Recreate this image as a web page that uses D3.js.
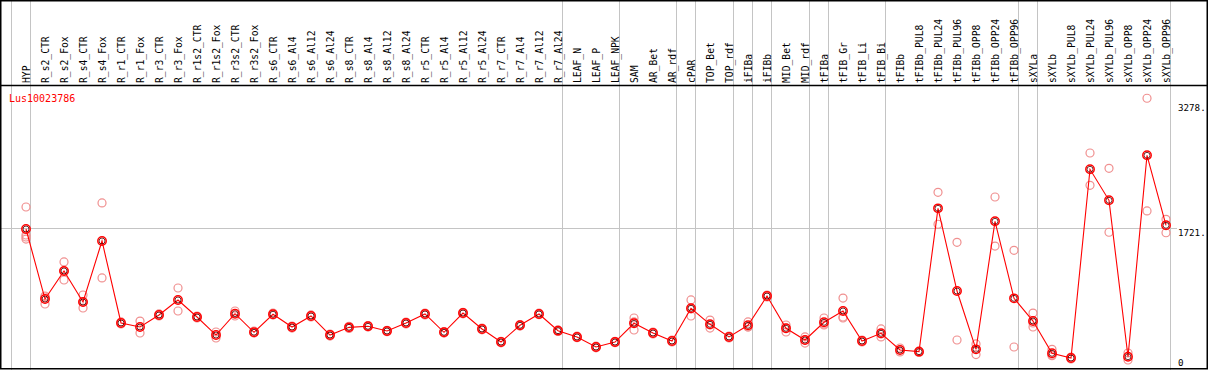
<!DOCTYPE html>
<html><head><meta charset="utf-8">
<script src="https://cdn.jsdelivr.net/npm/d3@7"></script>
<style>html,body{margin:0;padding:0;background:#fff;overflow:hidden}</style>
</head><body>
<svg id="c" width="1209" height="370"></svg>
<script>
const title = "Lus10023786";
const categories = ["HYP","R_s2_CTR","R_s2_Fox","R_s4_CTR","R_s4_Fox","R_r1_CTR","R_r1_Fox","R_r3_CTR","R_r3_Fox","R_r1s2_CTR","R_r1s2_Fox","R_r3s2_CTR","R_r3s2_Fox","R_s6_CTR","R_s6_Al4","R_s6_Al12","R_s6_Al24","R_s8_CTR","R_s8_Al4","R_s8_Al12","R_s8_Al24","R_r5_CTR","R_r5_Al4","R_r5_Al12","R_r5_Al24","R_r7_CTR","R_r7_Al4","R_r7_Al12","R_r7_Al24","LEAF_N","LEAF_P","LEAF_NPK","SAM","AR_Bet","AR_rdf","cPAR","TOP_Bet","TOP_rdf","iFIBa","iFIBb","MID_Bet","MID_rdf","tFIBa","tFIB_Gr","tFIB_Li","tFIB_Bi","tFIBb","tFIBb_PUL8","tFIBb_PUL24","tFIBb_PUL96","tFIBb_OPP8","tFIBb_OPP24","tFIBb_OPP96","sXYLa","sXYLb","sXYLb_PUL8","sXYLb_PUL24","sXYLb_PUL96","sXYLb_OPP8","sXYLb_OPP24","sXYLb_OPP96"];
// group sizes (columns per separated group)
const groupSizes = [1,28,3,3,1,2,1,1,2,1,3,7,1,7];
const means = [1711,810,1171,772,1557,502,450,605,798,579,347,621,382,614,450,592,347,446,459,399,502,618,382,630,425,257,472,618,403,322,193,257,498,373,270,691,485,322,472,849,434,283,511,656,270,369,154,133,1977,913,163,1810,819,527,112,51,2479,2080,68,2659,1759];
const replicates = [
 [1994,1634,1608,1582],[849,746,836],[1287,1055,1171],[862,695,772],[2046,1081],
 [515,489],[527,373],[618,592],[952,656],[592,566],[386,309],[656,592],[399,373],
 [630,605],[463,437],[605,579],[360,334],[432,460],[450,468],[390,408],[490,514],
 [606,630],[372,392],[620,640],[414,436],[247,267],[462,482],[608,628],[393,413],
 [312,332],[183,203],[248,266],[566,412,515],[386,360],[283,257],[798,592,682],
 [540,437,476],[334,309],[515,450,450],[862,836],[476,386,437],[322,244,283],
 [566,489,476],[823,566,579],[283,257],[425,322,360],[180,129],[142,122],
 [2183,1772],[1540,283],[232,96],[2123,1492],[1437,193],[630,450,502],[163,81,90],
 [64,39],[2689,2273],[2492,1669],[116,26],[3393,1943],[1836,1663]
];
const tickValues = [0,1721,3278];
const tickLabels = ["0","1721.","3278."];
const gridValue = 1721;

const svg = d3.select("#c");
const W = 1209, H = 370;
const headerY = 85.5;
const x = d3.scaleBand().domain(categories).range([11, 1170]).paddingInner(0).paddingOuter(0);
const bw = x.bandwidth();
const px = c => x(c) + bw * 0.79;
const y = d3.scaleLinear().domain([0, 3278]).range([362, 107.2]);

// group separators
let idx = 0;
const sepX = [x(categories[0])];
groupSizes.forEach(n => { idx += n; sepX.push(idx < categories.length ? x(categories[idx]) : x(categories[idx-1]) + bw); });
svg.append("g").selectAll("line").data(sepX).join("line")
  .attr("x1", d => Math.round(d) + 0.5).attr("x2", d => Math.round(d) + 0.5)
  .attr("y1", 0).attr("y2", H).attr("stroke", "#c4c4c4").attr("stroke-width", 1);

// horizontal gridline
svg.append("line").attr("x1", 1).attr("x2", 1177)
  .attr("y1", Math.round(y(gridValue)) + 0.5).attr("y2", Math.round(y(gridValue)) + 0.5)
  .attr("stroke", "#c4c4c4").attr("stroke-width", 1);

// frame
const frame = svg.append("g").attr("stroke", "#000").attr("stroke-width", 1.5).attr("fill", "none");
frame.append("rect").attr("x", 0.75).attr("y", 0.75).attr("width", 1206.5).attr("height", 368);
frame.append("line").attr("x1", 0).attr("x2", 1208).attr("y1", headerY).attr("y2", headerY);

// column labels
svg.append("g").selectAll("text").data(categories).join("text")
  .attr("transform", d => `translate(${px(d) + 3.8},83) rotate(-90)`)
  .attr("font-family", "DejaVu Sans Mono, monospace").attr("font-size", "9.7px")
  .attr("fill", "#000").text(d => d);

// title
svg.append("text").attr("x", 9).attr("y", 101.5).attr("fill", "#ff0000")
  .attr("font-family", "DejaVu Sans Mono, monospace").attr("font-size", "10px").text(title);

// right axis labels
svg.append("g").selectAll("text").data(tickValues).join("text")
  .attr("x", 1178).attr("y", d => y(d) + (d === gridValue ? 7.5 : 3.5))
  .attr("font-family", "DejaVu Sans Mono, monospace").attr("font-size", "9.2px")
  .attr("fill", "#000").text((d, i) => tickLabels[i]);

// replicate points
const repData = [];
replicates.forEach((arr, i) => arr.forEach(v => repData.push({c: categories[i], v})));
svg.append("g").selectAll("circle").data(repData).join("circle")
  .attr("cx", d => px(d.c)).attr("cy", d => y(d.v)).attr("r", 4)
  .attr("fill", "none").attr("stroke", "#f09090").attr("stroke-width", 1.2);

// mean line
const pts = categories.map((c, i) => [px(c), y(means[i])]);
svg.append("path").attr("d", d3.line()(pts)).attr("fill", "none")
  .attr("stroke", "#ff0000").attr("stroke-width", 1.1);

// mean markers
const mg = svg.append("g");
mg.selectAll("circle.in").data(pts).join("circle").attr("class", "in")
  .attr("cx", d => d[0]).attr("cy", d => d[1]).attr("r", 3)
  .attr("fill", "none").attr("stroke", "#400").attr("stroke-width", 0.8);
mg.selectAll("circle.out").data(pts).join("circle").attr("class", "out")
  .attr("cx", d => d[0]).attr("cy", d => d[1]).attr("r", 4.2)
  .attr("fill", "none").attr("stroke", "#ff0000").attr("stroke-width", 1.5);
</script>
</body></html>
